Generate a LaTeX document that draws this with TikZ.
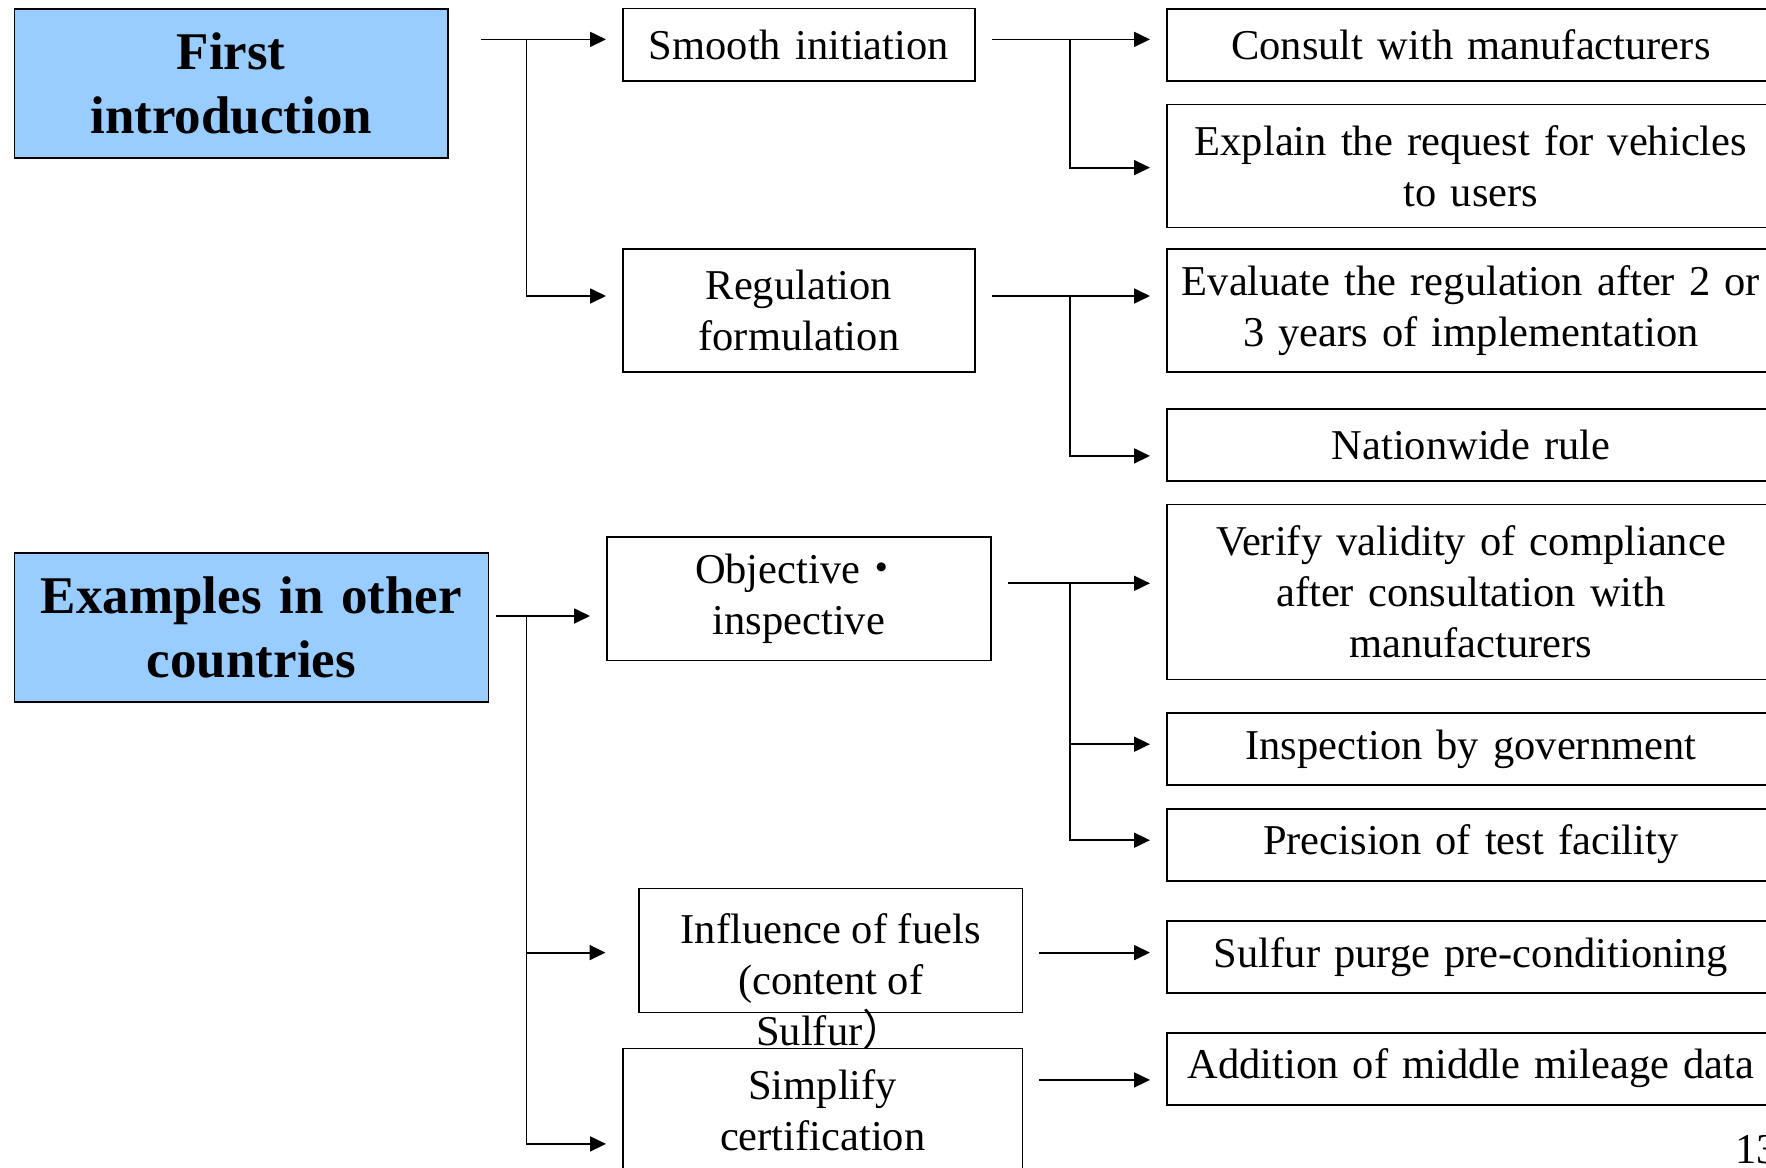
\documentclass[tikz,border=0pt]{standalone}
\usepackage{fontspec}
\setmainfont{Liberation Serif}
\newfontfamily\cjkfont{Noto Sans CJK JP}
\usetikzlibrary{arrows.meta, positioning}
\definecolor{headblue}{RGB}{153, 204, 255}

\begin{document}
\begin{tikzpicture}[x=1pt, y=-1pt,
    box/.style={draw, line width=1.8pt, anchor=north west, inner sep=0pt, align=center, font=\fontsize{42.5}{51}\selectfont},
    head/.style={box, fill=headblue, font=\bfseries\fontsize{53}{64}\selectfont},
    leaf/.style={box, minimum width=608pt, text width=596pt},
    boxtext/.style={inner sep=0pt, align=center, font=\fontsize{42.5}{51}\selectfont},
    arrow/.style={-{Triangle[length=16pt, width=15pt]}, line width=1.8pt, shorten >=16pt},
    branch/.style={line width=1.8pt}
]
    \useasboundingbox (0,0) rectangle (1766,1167);

    % Headings
    \node[head, minimum width=433.5pt, minimum height=149pt, text width=420pt] (first) at (13.5,8) {First\\introduction};
    \node[head, minimum width=474pt, minimum height=149pt, text width=460pt] (examples) at (13.5,552) {Examples in other\\countries};

    % Middle column
    \node[box, minimum width=352pt, minimum height=72.5pt, text width=340pt] (smooth) at (622,7.5) {Smooth initiation};
    \node[box, minimum width=352pt, minimum height=123pt, text width=340pt] (regulation) at (622,248) {Regulation\\formulation};
    \node[box, minimum width=384pt, minimum height=123.5pt, text width=370pt] (objective) at (606,536) {Objective{\cjkfont ・}\\inspective};
    \node[box, minimum width=383.5pt, minimum height=124pt] (influence) at (638,887.5) {};
    \node[boxtext, anchor=north] (influencetext) at ([yshift=-26pt]influence.north) {Influence of fuels\\(content of\\Sulfur{\cjkfont ）}};
    \node[box, minimum width=399.5pt, minimum height=123pt, text width=385pt] (simplify) at (622,1047.5) {Simplify\\certification};

    % Right column
    \node[leaf, minimum height=72pt] (consult) at (1166,8) {Consult with manufacturers};
    \node[leaf, minimum height=123pt] (explain) at (1166,103.6) {Explain the request for vehicles\\to users};
    \node[leaf, minimum height=123pt] (evaluate) at (1166,248) {Evaluate the regulation after 2 or\\3 years of implementation};
    \node[leaf, minimum height=72pt] (nationwide) at (1166,407.7) {Nationwide rule};
    \node[leaf, minimum height=175pt] (verify) at (1166,503.5) {Verify validity of compliance\\after consultation with\\manufacturers};
    \node[leaf, minimum height=72pt] (inspection) at (1166,712) {Inspection by government};
    \node[leaf, minimum height=72pt] (precision) at (1166,807.7) {Precision of test facility};
    \node[leaf, minimum height=72pt] (sulfur) at (1166,920) {Sulfur purge pre-conditioning};
    \node[leaf, minimum height=72pt] (addition) at (1166,1031.7) {Addition of middle mileage data};

    \node[boxtext, anchor=base west] (pagenum) at (1735,1163) {13};

    % Junctions
    \coordinate (ja) at (526.5,39.4);
    \coordinate (jb) at (1070,39.4);
    \coordinate (jc) at (1070,296);
    \coordinate (jd) at (526.5,616);
    \coordinate (je) at (1070,583.3);

    % First introduction
    \draw[branch, shorten <=32pt] (first.east |- ja) -- (ja);
    \draw[arrow] (ja) -- (smooth.west |- ja);
    \draw[arrow] (ja) |- (regulation.west |- jc);
    \draw[branch, shorten <=16pt] (smooth.east |- jb) -- (jb);
    \draw[arrow] (jb) -- (consult.west |- jb);
    \draw[arrow] (jb) |- ([yshift=-1.6pt]explain.west);
    \draw[branch, shorten <=16pt] (regulation.east |- jc) -- (jc);
    \draw[arrow] (jc) -- (evaluate.west |- jc);
    \draw[arrow] (jc) |- ([yshift=-11.3pt]nationwide.west);

    % Examples in other countries
    \draw[arrow, shorten <=7pt] (examples.east |- jd) -- (objective.west |- jd);
    \draw[arrow, shorten >=32.5pt] (jd) |- ([yshift=-2.2pt]influence.west);
    \draw[arrow] (jd) |- ([yshift=-34pt]simplify.west);
    \draw[branch, shorten <=16pt] (objective.east |- je) -- (je);
    \draw[arrow] (je) -- (verify.west |- je);
    \draw[arrow] (je) |- ([yshift=4.7pt]inspection.west);
    \draw[arrow] (je) |- ([yshift=4.4pt]precision.west);
    \draw[arrow, shorten <=16pt] ([yshift=-2.2pt]influence.east) -- ([yshift=4.3pt]sulfur.west);
    \draw[arrow, shorten <=16pt] ([yshift=30pt]simplify.east) -- ([yshift=-11.3pt]addition.west);
\end{tikzpicture}
\end{document}
